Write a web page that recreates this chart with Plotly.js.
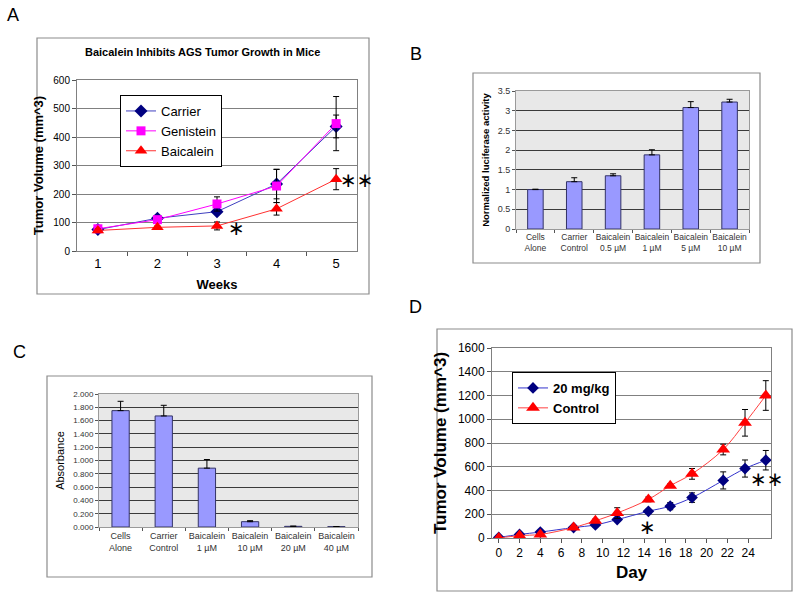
<!DOCTYPE html>
<html><head><meta charset="utf-8">
<script src="https://cdn.plot.ly/plotly-3.0.1.min.js"></script>
<style>html,body{margin:0;padding:0;background:#fff}#chart{width:800px;height:599px}</style>
</head><body><div id="chart"></div>
<script>
// Panel A data
const weeks = ['1','2','3','4','5'];
const carrier = [75, 115, 138, 235, 437];
const carrierErr = [5, 10, 10, 52, 40];
const genistein = [78, 110, 165, 228, 447];
const genisteinErr = [5, 10, 25, 58, 95];
const baicalein = [72, 83, 88, 148, 252];
const baicaleinErr = [5, 5, 14, 22, 37];

// Panel B data
const bCats = ['Cells<br>Alone','Carrier<br>Control','Baicalein<br>0.5 µM','Baicalein<br>1 µM','Baicalein<br>5 µM','Baicalein<br>10 µM'];
const bVals = [1.0, 1.2, 1.35, 1.88, 3.08, 3.22];
const bErr = [0.01, 0.1, 0.05, 0.13, 0.15, 0.07];

// Panel C data
const cCats = ['Cells<br>Alone','Carrier<br>Control','Baicalein<br>1 µM','Baicalein<br>10 µM','Baicalein<br>20 µM','Baicalein<br>40 µM'];
const cVals = [1.75, 1.67, 0.885, 0.08, 0.01, 0.005];
const cErr = [0.14, 0.16, 0.13, 0.015, 0.003, 0.002];

// Panel D data
const days = [0, 2, 4, 7.2, 9.3, 11.4, 14.4, 16.5, 18.6, 21.6, 23.7, 25.7];
const dose20 = [5, 30, 50, 88, 110, 155, 225, 268, 340, 485, 585, 655];
const dose20Err = [0, 5, 5, 8, 15, 15, 15, 30, 40, 72, 72, 82];
const control = [0, 20, 30, 88, 145, 210, 325, 440, 540, 745, 970, 1200];
const controlErr = [0, 3, 5, 10, 15, 45, 20, 15, 45, 45, 112, 125];

const W = 800, H = 599;
const px = x => x / W, py = y => 1 - y / H;
const F = 'Liberation Sans, Arial, sans-serif';
const eb = (arr) => ({type:'data', array: arr, visible:true, color:'#000', thickness:1, width:3});
const ebUp = (arr) => ({type:'data', symmetric:false, array: arr, arrayminus: arr.map(()=>0), visible:true, color:'#000', thickness:1, width:3});

const traces = [
  {x: weeks, y: carrier, error_y: eb(carrierErr), name:'Carrier', type:'scatter', mode:'lines+markers',
   line:{color:'#4040c0', width:1}, marker:{symbol:'diamond', size:10, color:'#000080'}, xaxis:'x', yaxis:'y', legend:'legend'},
  {x: weeks, y: genistein, error_y: eb(genisteinErr), name:'Genistein', type:'scatter', mode:'lines+markers',
   line:{color:'#ff00ff', width:1}, marker:{symbol:'square', size:9, color:'#ff00ff'}, xaxis:'x', yaxis:'y', legend:'legend'},
  {x: weeks, y: baicalein, error_y: eb(baicaleinErr), name:'Baicalein', type:'scatter', mode:'lines+markers',
   line:{color:'#ff3030', width:1}, marker:{symbol:'triangle-up', size:11, color:'#ff0000'}, xaxis:'x', yaxis:'y', legend:'legend'},
  {x: bCats, y: bVals, error_y: ebUp(bErr), type:'bar', showlegend:false,
   marker:{color:'#9999ff', line:{color:'#333366', width:1}}, xaxis:'x2', yaxis:'y2'},
  {x: cCats, y: cVals, error_y: ebUp(cErr), type:'bar', showlegend:false,
   marker:{color:'#9999ff', line:{color:'#333366', width:1}}, xaxis:'x3', yaxis:'y3'},
  {x: days, y: dose20, error_y: eb(dose20Err), name:'20 mg/kg', type:'scatter', mode:'lines+markers',
   line:{color:'#3333cc', width:1, shape:'spline'}, marker:{symbol:'diamond', size:9, color:'#000080'}, xaxis:'x4', yaxis:'y4', legend:'legend2'},
  {x: days, y: control, error_y: eb(controlErr), name:'Control', type:'scatter', mode:'lines+markers',
   line:{color:'#ff4040', width:1, shape:'spline'}, marker:{symbol:'triangle-up', size:12, color:'#ff0000'}, xaxis:'x4', yaxis:'y4', legend:'legend2'}
];

const box = (x0,y0,x1,y1) => ({type:'rect', xref:'paper', yref:'paper', x0:px(x0), x1:px(x1), y0:py(y1), y1:py(y0),
  line:{color:'#8c8c8c', width:1.2}, fillcolor:'rgba(0,0,0,0)', layer:'below'});
const lab = (t, x, y, size, extra) => Object.assign({text:t, xref:'paper', yref:'paper', x:px(x), y:py(y),
  xanchor:'center', yanchor:'middle', showarrow:false, font:{family:F, size:size, color:'#000'}}, extra||{});
const star = (t, x, y) => lab(t, x, y, 20, {font:{family:'DejaVu Sans', size:20, color:'#000'}});

const layout = {
  width: W, height: H, margin:{l:0,r:0,t:0,b:0}, paper_bgcolor:'#fff', plot_bgcolor:'#fff',
  font:{family:F, color:'#000'},
  bargap: 0.6,
  xaxis:{domain:[px(77), px(357)], type:'category', tickson:'boundaries', ticks:'outside', ticklen:4, tickcolor:'#555',
    showline:true, mirror:true, linecolor:'#808080', showgrid:false, tickfont:{size:13},
    title:{text:'<b>Weeks</b>', font:{size:13}, standoff:10}},
  yaxis:{domain:[py(251), py(80)], range:[0,600], dtick:100, ticks:'outside', ticklen:4, tickcolor:'#555',
    showline:true, mirror:true, linecolor:'#808080', gridcolor:'#808080', zeroline:false, tickfont:{size:10},
    title:{text:'<b>Tumor Volume (mm^3)</b>', font:{size:13}, standoff:6}},
  xaxis2:{domain:[px(516), px(749)], anchor:'y2', type:'category', tickson:'boundaries', ticks:'outside', ticklen:3, tickcolor:'#555',
    showline:true, mirror:true, linecolor:'#9a9a9a', showgrid:false, tickangle:0, tickfont:{size:8.5, color:'#333'}},
  yaxis2:{domain:[py(229), py(91)], anchor:'x2', range:[0,3.5], dtick:0.5, ticks:'outside', ticklen:3, tickcolor:'#555',
    showline:true, mirror:true, linecolor:'#9a9a9a', gridcolor:'#3a3a3a', zeroline:false, tickfont:{size:9, color:'#333'},
    title:{text:'<b>Normalized luciferase activity</b>', font:{size:9.5}, standoff:6}},
  xaxis3:{domain:[px(99), px(358)], anchor:'y3', type:'category', tickson:'boundaries', ticks:'outside', ticklen:3, tickcolor:'#555',
    showline:true, mirror:true, linecolor:'#9a9a9a', showgrid:false, tickangle:0, tickfont:{size:9, color:'#333'}},
  yaxis3:{domain:[py(527), py(394)], anchor:'x3', range:[0,2], dtick:0.2, tickformat:'.3f', ticks:'outside', ticklen:3, tickcolor:'#555',
    showline:true, mirror:true, linecolor:'#9a9a9a', gridcolor:'#3a3a3a', zeroline:false, tickfont:{size:8, color:'#333'},
    title:{text:'Absorbance', font:{size:11}, standoff:6}},
  xaxis4:{domain:[px(492), px(771)], anchor:'y4', range:[-0.65, 26.2], tickvals:[0,2,4,6,8,10,12,14,16,18,20,22,24],
    ticks:'outside', ticklen:4, tickcolor:'#555', showline:true, mirror:true, linecolor:'#808080', showgrid:false, zeroline:false,
    tickfont:{size:12}, title:{text:'<b>Day</b>', font:{size:17}, standoff:6}},
  yaxis4:{domain:[py(538), py(348)], anchor:'x4', range:[0,1600], dtick:200, ticks:'outside', ticklen:4, tickcolor:'#555',
    showline:true, mirror:true, linecolor:'#808080', gridcolor:'#808080', zeroline:false, tickfont:{size:12},
    title:{text:'<b>Tumor Volume (mm^3)</b>', font:{size:17}, standoff:6}},
  legend:{x:px(120), y:py(95), xanchor:'left', yanchor:'top', bgcolor:'#fff', bordercolor:'#000', borderwidth:1,
    font:{size:13, family:F}, tracegroupgap:0, itemwidth:30},
  legend2:{x:px(512), y:py(372), xanchor:'left', yanchor:'top', bgcolor:'#fff', bordercolor:'#000', borderwidth:1,
    font:{size:13, family:F, weight:'bold'}, tracegroupgap:0, itemwidth:30},
  shapes:[
    box(37,38,369,294),
    {type:'rect', xref:'paper', yref:'paper', x0:px(516), x1:px(749), y0:py(229), y1:py(91), fillcolor:'#e8e8e8', line:{width:0}, layer:'below'},
    {type:'rect', xref:'paper', yref:'paper', x0:px(99), x1:px(358), y0:py(527), y1:py(394), fillcolor:'#e8e8e8', line:{width:0}, layer:'below'},
    box(473,73,760,263),
    box(47,376,372,577),
    box(437,329,792,591)
  ],
  annotations:[
    lab('A', 13, 15, 18),
    lab('B', 416, 54, 18),
    lab('C', 19, 352, 18),
    lab('D', 415, 307, 18),
    lab('<b>Baicalein Inhibits AGS Tumor Growth in Mice</b>', 203, 52, 11),
    star('∗', 236, 228),
    star('∗∗', 357, 180),
    star('∗', 647, 527),
    star('∗∗', 767, 479)
  ]
};
Plotly.newPlot('chart', traces, layout, {staticPlot:true});
</script></body></html>
